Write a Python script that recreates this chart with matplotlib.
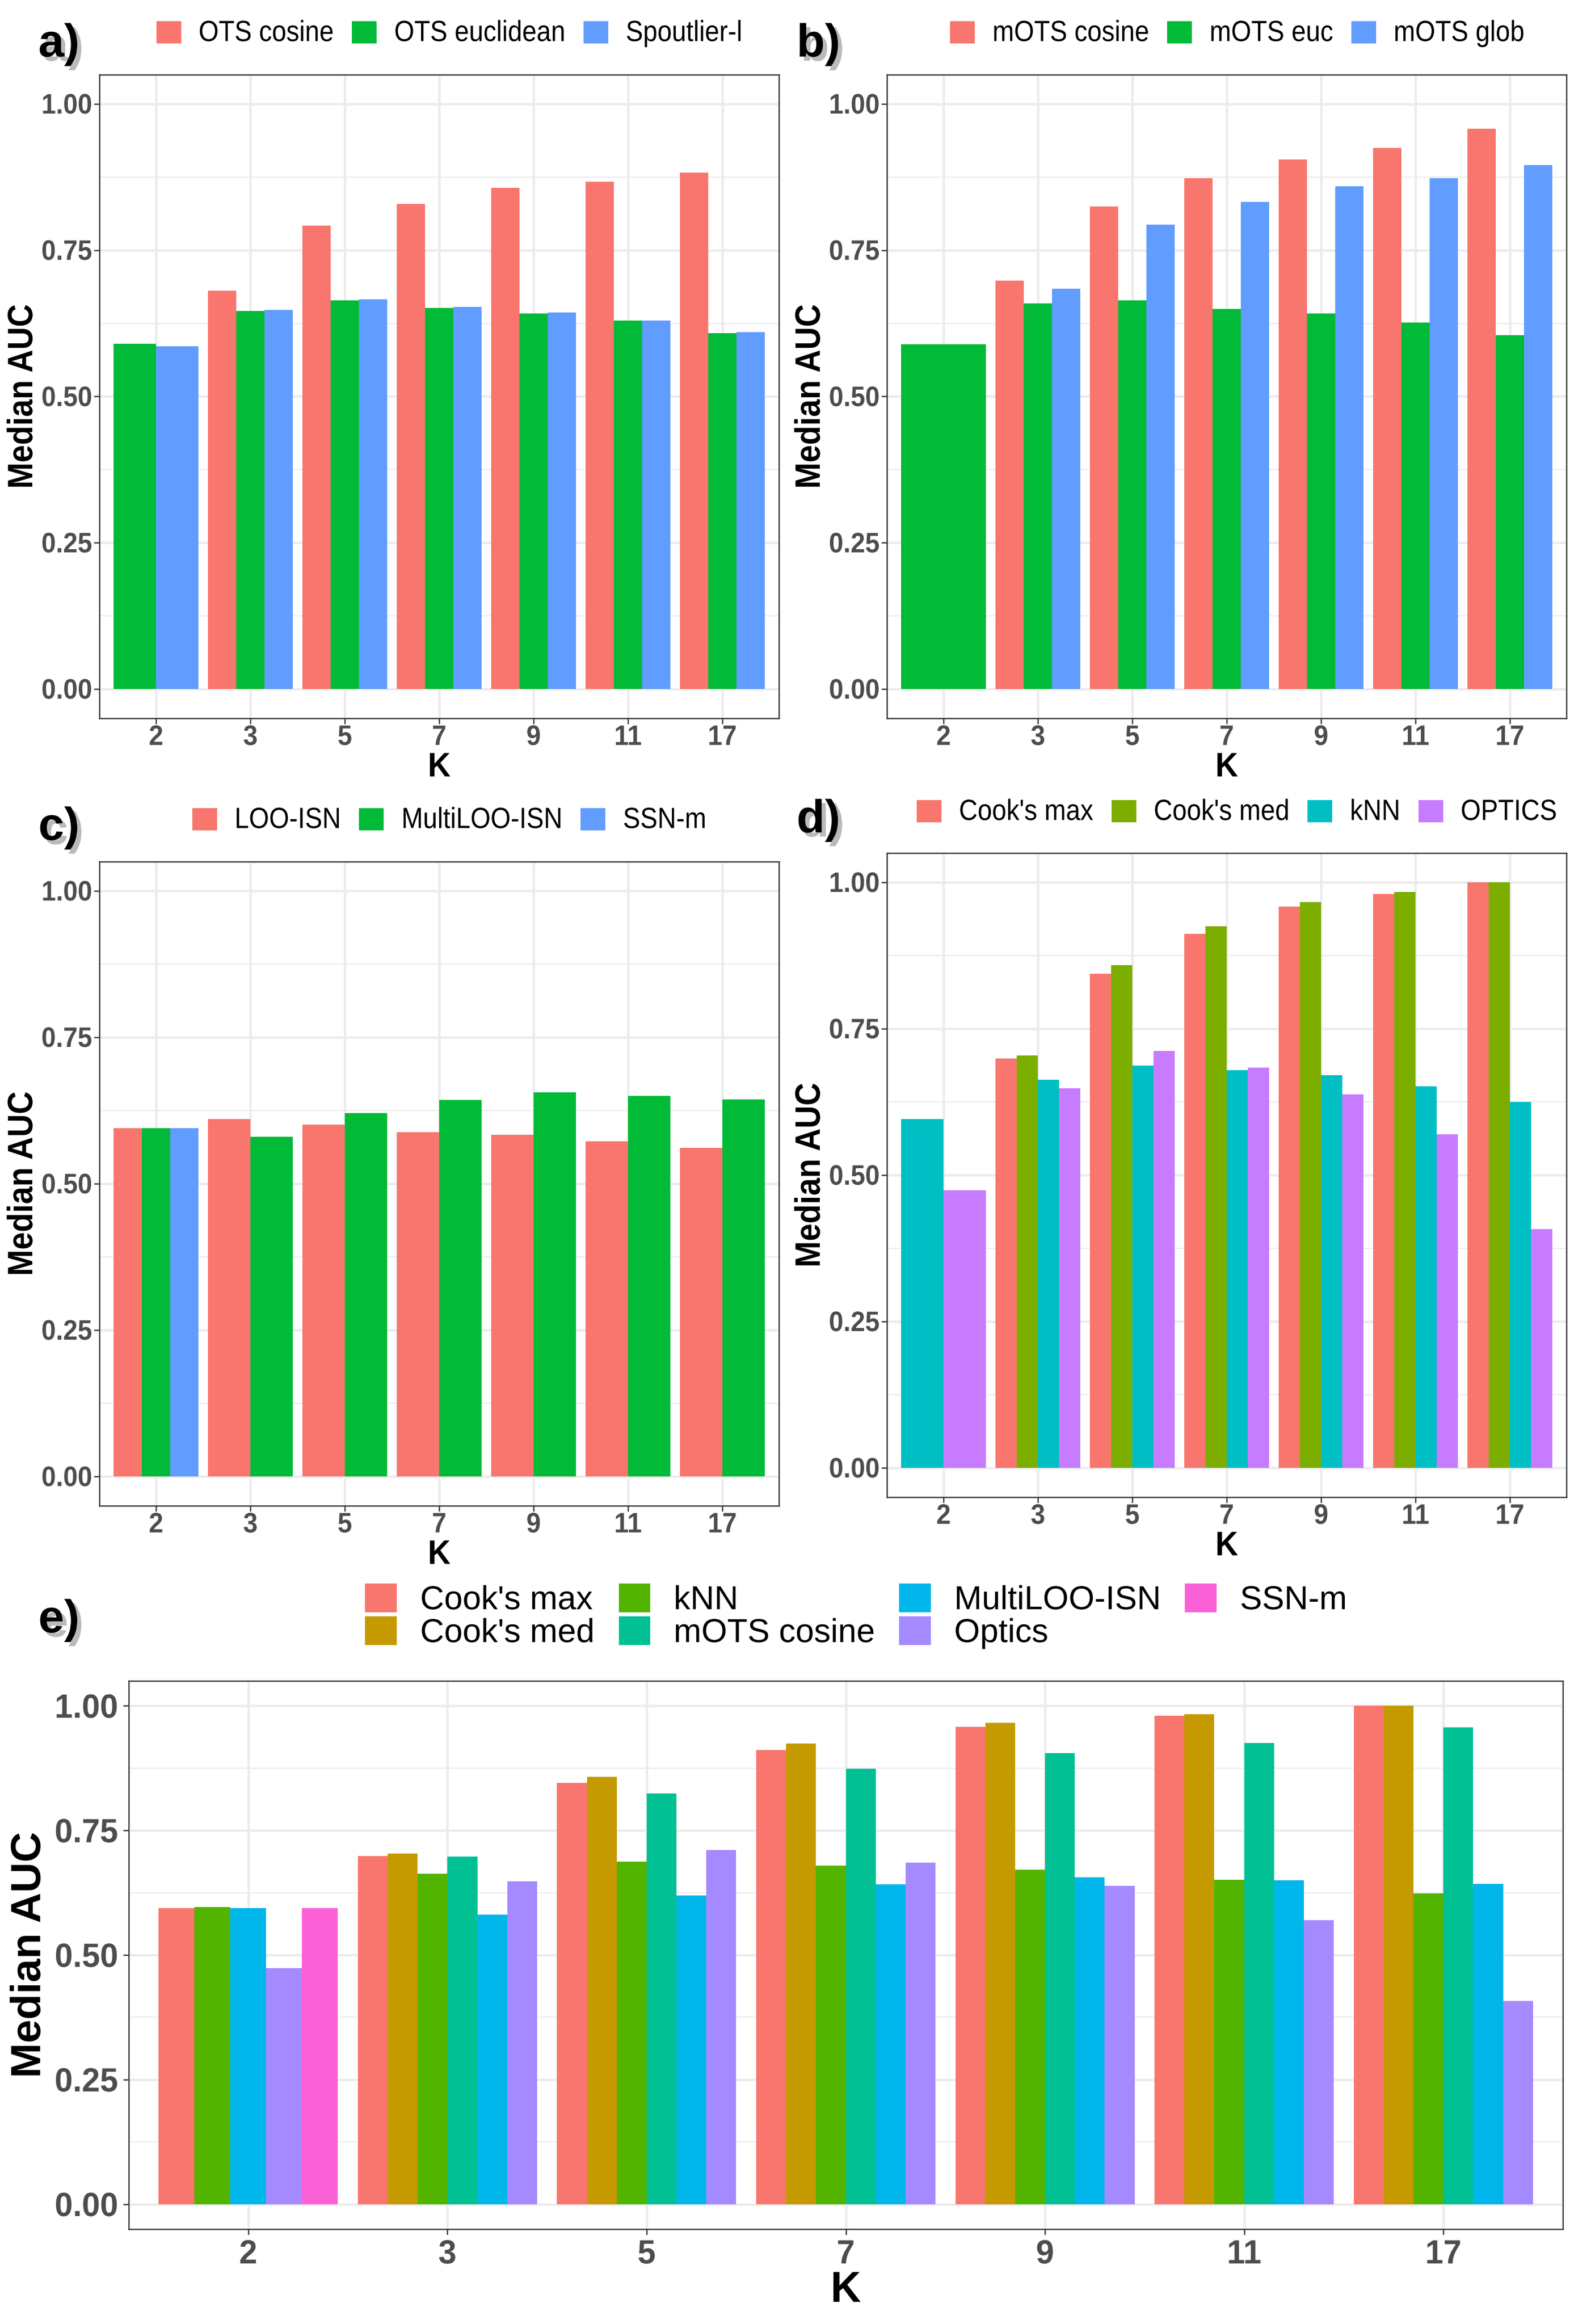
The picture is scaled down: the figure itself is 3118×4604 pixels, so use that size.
import numpy as np
import matplotlib
matplotlib.use("Agg")
import matplotlib.pyplot as plt
from matplotlib import patheffects
from matplotlib.patches import Patch
from matplotlib.transforms import Affine2D

plt.rcParams["font.family"] = ["Liberation Sans", "DejaVu Sans"]

W, H = 3118, 4604
DPI = 300

nan = np.nan
k_values = ["2", "3", "5", "7", "9", "11", "17"]
y_ticks = [0.0, 0.25, 0.5, 0.75, 1.0]

# a) OTS variants
a_names = ["OTS cosine", "OTS euclidean", "Spoutlier-l"]
ots_cosine = [nan, 0.681, 0.792, 0.829, 0.857, 0.867, 0.883]
ots_euclidean = [0.590, 0.646, 0.664, 0.651, 0.642, 0.630, 0.608]
spoutlier_l = [0.586, 0.648, 0.666, 0.653, 0.644, 0.630, 0.610]

# b) mOTS variants
b_names = ["mOTS cosine", "mOTS euc", "mOTS glob"]
mots_cosine = [nan, 0.698, 0.825, 0.873, 0.905, 0.925, 0.958]
mots_euc = [0.589, 0.659, 0.664, 0.650, 0.642, 0.626, 0.605]
mots_glob = [nan, 0.684, 0.794, 0.833, 0.859, 0.873, 0.896]

# c) LOO based
c_names = ["LOO-ISN", "MultiLOO-ISN", "SSN-m"]
loo_isn = [0.595, 0.610, 0.601, 0.588, 0.584, 0.572, 0.561]
multiloo_isn = [0.595, 0.580, 0.621, 0.643, 0.656, 0.650, 0.644]
ssn_m = [0.595, nan, nan, nan, nan, nan, nan]

# d) other outlier methods
d_names = ["Cook's max", "Cook's med", "kNN", "OPTICS"]
cooks_max = [nan, 0.699, 0.844, 0.912, 0.959, 0.980, 1.000]
cooks_med = [nan, 0.704, 0.859, 0.925, 0.966, 0.984, 1.000]
knn = [0.596, 0.663, 0.687, 0.679, 0.671, 0.652, 0.625]
optics = [0.474, 0.648, 0.712, 0.684, 0.638, 0.570, 0.408]

# e) best of each
e_names = ["Cook's max", "Cook's med", "kNN", "mOTS cosine", "MultiLOO-ISN", "Optics", "SSN-m"]
e_cooks_max = [0.594, 0.699, 0.845, 0.911, 0.958, 0.980, 1.000]
e_cooks_med = [nan, 0.704, 0.858, 0.924, 0.966, 0.983, 1.000]
e_knn = [0.596, 0.663, 0.687, 0.679, 0.671, 0.651, 0.624]
e_mots_cosine = [nan, 0.698, 0.824, 0.874, 0.905, 0.925, 0.957]
e_multiloo = [0.594, 0.581, 0.620, 0.642, 0.656, 0.650, 0.643]
e_optics = [0.474, 0.648, 0.711, 0.685, 0.639, 0.570, 0.408]
e_ssn_m = [0.594, nan, nan, nan, nan, nan, nan]

pal3 = ["#F8766D", "#00BA38", "#619CFF"]
pal4 = ["#F8766D", "#7CAE00", "#00BFC4", "#C77CFF"]
pal7 = ["#F8766D", "#C49A00", "#53B400", "#00C094", "#00B6EB", "#A58AFF", "#FB61D7"]


class VStretch(patheffects.AbstractPathEffect):
    """Draw text glyphs taller than wide (the R device font is narrower than Arial)."""

    def __init__(self, sy, inner=None):
        super().__init__()
        self.sy = sy
        self.inner = inner

    def draw_path(self, renderer, gc, tpath, affine, rgbFace=None):
        affine = Affine2D().scale(1.0, self.sy) + affine
        if self.inner is None:
            renderer.draw_path(gc, tpath, affine, rgbFace)
        else:
            self.inner.draw_path(renderer, gc, tpath, affine, rgbFace)


def px_axes(fig, left, top, right, bottom):
    return fig.add_axes([left / W, 1 - bottom / H, (right - left) / W, (bottom - top) / H])


def draw_panel(ax, series, colors, tick_fs, label_fs, tick_pad, ylabelpad, xlabelpad,
               tick_sy=1.0, label_sy=1.0):
    n_k = len(k_values)
    data = np.array(series, dtype=float)
    for i in range(n_k):
        # ggplot-style dodge: only the methods present at this K share the slot
        present = [j for j in range(len(series)) if not np.isnan(data[j, i])]
        w = 0.9 / len(present)
        for pos, j in enumerate(present):
            ax.bar(i - 0.45 + w * (pos + 0.5), data[j, i], width=w,
                   color=colors[j], linewidth=0, zorder=3)

    ax.set_xlim(-0.6, n_k - 0.4)
    ax.set_ylim(-0.05, 1.05)
    ax.set_xticks(range(n_k))
    ax.set_xticklabels(k_values)
    ax.set_yticks(y_ticks)
    ax.set_yticklabels([f"{t:.2f}" for t in y_ticks])
    ax.set_yticks([0.125, 0.375, 0.625, 0.875], minor=True)
    ax.grid(True, which="major", color="#EBEBEB", linewidth=1.1, zorder=0)
    ax.grid(True, which="minor", axis="y", color="#EBEBEB", linewidth=0.55, zorder=0)
    ax.set_axisbelow(True)
    ax.tick_params(which="major", length=2.75, width=0.6, color="#333333",
                   labelsize=tick_fs, labelcolor="#4D4D4D", pad=tick_pad)
    ax.tick_params(which="minor", length=0)
    for lab in ax.get_xticklabels() + ax.get_yticklabels():
        lab.set_fontweight("bold")
        lab.set_path_effects([VStretch(tick_sy)])
    for sp in ax.spines.values():
        sp.set_color("#333333")
        sp.set_linewidth(0.6)
        sp.set_zorder(5)
    ax.set_xlabel("K", fontsize=label_fs, fontweight="bold", labelpad=xlabelpad)
    ax.set_ylabel("Median AUC", fontsize=label_fs, fontweight="bold", labelpad=ylabelpad)
    ax.xaxis.label.set_path_effects([VStretch(tick_sy)])
    ax.yaxis.label.set_path_effects([VStretch(label_sy)])


def add_legend(fig, names, colors, cx, cy, fs, ncol, hl, tp, cs, ls, sy=1.0):
    handles = [Patch(facecolor=c, edgecolor="none") for c in colors]
    leg = fig.legend(handles, names, loc="center", bbox_to_anchor=(cx / W, 1 - cy / H),
                     ncol=ncol, frameon=False, fontsize=fs, handlelength=hl, handleheight=hl,
                     handletextpad=tp, columnspacing=cs, labelspacing=ls, borderpad=0,
                     borderaxespad=0)
    for t in leg.get_texts():
        t.set_path_effects([VStretch(sy)])


def panel_tag(fig, text, x, y):
    shadow = patheffects.SimplePatchShadow(offset=(2, -2), shadow_rgbFace="0.55", alpha=0.6)
    fig.text(x / W, 1 - y / H, text, fontsize=22, fontweight="bold", ha="left", va="center",
             path_effects=[VStretch(1.0, shadow), VStretch(1.0)])


fig = plt.figure(figsize=(W / DPI, H / DPI), dpi=DPI)

small = dict(tick_fs=12.4, label_fs=15, tick_pad=0.8, ylabelpad=1.2, xlabelpad=1.3,
             tick_sy=1.08, label_sy=1.12)
leg_small = dict(fs=12.3, hl=0.956, tp=0.68, cs=0.7, ls=0.5, sy=1.13)

ax_a = px_axes(fig, 197, 148, 1543, 1423)
draw_panel(ax_a, [ots_cosine, ots_euclidean, spoutlier_l], pal3, **small)
add_legend(fig, a_names, pal3, 890, 67, ncol=3, **leg_small)
panel_tag(fig, "a)", 76, 88)

ax_b = px_axes(fig, 1757, 148, 3103, 1423)
draw_panel(ax_b, [mots_cosine, mots_euc, mots_glob], pal3, **small)
add_legend(fig, b_names, pal3, 2451, 67, ncol=3, **leg_small)
panel_tag(fig, "b)", 1578, 88)

ax_c = px_axes(fig, 197, 1707, 1543, 2983)
draw_panel(ax_c, [loo_isn, multiloo_isn, ssn_m], pal3, **small)
add_legend(fig, c_names, pal3, 890, 1626, ncol=3, **leg_small)
panel_tag(fig, "c)", 76, 1640)

ax_d = px_axes(fig, 1757, 1690, 3103, 2966)
draw_panel(ax_d, [cooks_max, cooks_med, knn, optics], pal4, **small)
add_legend(fig, d_names, pal4, 2450, 1610, ncol=4, **leg_small)
panel_tag(fig, "d)", 1578, 1625)

ax_e = px_axes(fig, 255, 3330, 3096, 4416)
draw_panel(ax_e, [e_cooks_max, e_cooks_med, e_knn, e_mots_cosine, e_multiloo, e_optics, e_ssn_m],
           pal7, tick_fs=15.5, label_fs=20, tick_pad=2.3, ylabelpad=2.8, xlabelpad=0.5,
           tick_sy=1.03, label_sy=1.0)
add_legend(fig, e_names, pal7, 1696, 3202, fs=15.8, ncol=4, hl=0.955, tp=0.7, cs=0.72, ls=0.0)
panel_tag(fig, "e)", 76, 3210)

fig.savefig("out.png", dpi=DPI, facecolor="white")
